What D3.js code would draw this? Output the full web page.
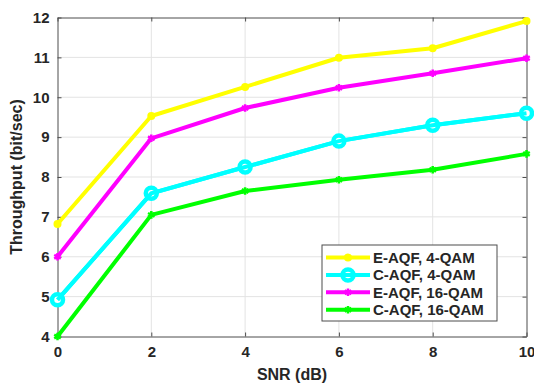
<!DOCTYPE html>
<html>
<head>
<meta charset="utf-8">
<script src="https://cdn.jsdelivr.net/npm/d3@7"></script>
<style>
  body { margin: 0; background: #fff; }
  text { font-family: Arial, "Liberation Sans", sans-serif; font-weight: bold; fill: #262626; }
</style>
</head>
<body>
<svg id="chart" width="534" height="385"></svg>
<script>
const snr = [0, 2, 4, 6, 8, 10];
const eaqf4 = [6.82, 9.53, 10.26, 10.99, 11.23, 11.91];
const caqf4 = [4.92, 7.59, 8.25, 8.9, 9.3, 9.6];
const eaqf16 = [6.0, 8.97, 9.73, 10.24, 10.6, 10.98];
const caqf16 = [4.0, 7.05, 7.65, 7.93, 8.18, 8.58];
const seriesNames = ['E-AQF, 4-QAM', 'C-AQF, 4-QAM', 'E-AQF, 16-QAM', 'C-AQF, 16-QAM'];
const xTicks = [0, 2, 4, 6, 8, 10];
const yTicks = [4, 5, 6, 7, 8, 9, 10, 11, 12];

const series = [
  { name: seriesNames[0], values: eaqf4, color: '#ffff00', marker: 'dot' },
  { name: seriesNames[1], values: caqf4, color: '#00ffff', marker: 'ring' },
  { name: seriesNames[2], values: eaqf16, color: '#ff00ff', marker: 'star' },
  { name: seriesNames[3], values: caqf16, color: '#00ff00', marker: 'star' },
];

const margin = { top: 17.5, right: 7.5, bottom: 48.5, left: 57.5 };
const width = 534 - margin.left - margin.right;
const height = 385 - margin.top - margin.bottom;

const svg = d3.select('#chart');
const g = svg.append('g').attr('transform', `translate(${margin.left},${margin.top})`);

const x = d3.scaleLinear().domain([0, 10]).range([0, width]);
const y = d3.scaleLinear().domain([4, 12]).range([height, 0]);

// grid
g.append('g').selectAll('line').data(xTicks.slice(1, -1)).enter().append('line')
  .attr('x1', (d) => x(d)).attr('x2', (d) => x(d)).attr('y1', 0).attr('y2', height)
  .attr('stroke', '#e3e3e3').attr('stroke-width', 1);
g.append('g').selectAll('line').data(yTicks.slice(1, -1)).enter().append('line')
  .attr('y1', (d) => y(d)).attr('y2', (d) => y(d)).attr('x1', 0).attr('x2', width)
  .attr('stroke', '#e3e3e3').attr('stroke-width', 1);

// axes
g.append('g').attr('transform', `translate(0,${height})`)
  .call(d3.axisBottom(x).tickValues(xTicks).tickSizeInner(-4).tickSizeOuter(0).tickPadding(10));
g.append('g')
  .call(d3.axisLeft(y).tickValues(yTicks).tickSizeInner(-4).tickSizeOuter(0).tickPadding(8));
g.append('g').attr('transform', `translate(${width},0)`)
  .call(d3.axisRight(y).tickValues(yTicks).tickSizeInner(-4).tickSizeOuter(0).tickFormat(''));
g.append('g')
  .call(d3.axisTop(x).tickValues(xTicks).tickSizeInner(-4).tickSizeOuter(0).tickFormat(''));
g.selectAll('.domain').attr('stroke', '#4d4d4d').attr('stroke-width', 1);
g.selectAll('.tick line').attr('stroke', '#4d4d4d');
g.selectAll('.tick text').style('font-size', '15px').style('font-weight', 'bold').attr('fill', '#262626');

// lines
const line = d3.line().x((d, i) => x(snr[i])).y((d) => y(d));
const star = d3.symbol().type(d3.symbolAsterisk).size(40);

function drawMarker(sel, s) {
  if (s.marker === 'dot') {
    sel.append('circle').attr('r', 4).attr('fill', s.color);
  } else if (s.marker === 'ring') {
    sel.append('circle').attr('r', 5.5).attr('fill', '#fff')
      .attr('stroke', s.color).attr('stroke-width', 4.5);
  } else {
    sel.append('path').attr('d', star).attr('fill', 'none')
      .attr('stroke', s.color).attr('stroke-width', 2.5);
  }
}

series.forEach((s) => {
  g.append('path').datum(s.values).attr('d', line)
    .attr('fill', 'none').attr('stroke', s.color).attr('stroke-width', 4)
    .attr('stroke-linejoin', 'round');
});
series.forEach((s) => {
  g.selectAll(null).data(s.values).enter().append('g')
    .attr('transform', (d, i) => `translate(${x(snr[i])},${y(d)})`)
    .each(function () { drawMarker(d3.select(this), s); });
  // line drawn again over the rings, as in the original
  if (s.marker === 'ring') {
    g.append('path').datum(s.values).attr('d', line)
      .attr('fill', 'none').attr('stroke', s.color).attr('stroke-width', 4);
  }
});

// axis labels
svg.append('text').attr('x', margin.left + width / 2).attr('y', 380)
  .attr('text-anchor', 'middle').style('font-size', '16px').text('SNR (dB)');
svg.append('text').attr('transform', `translate(22,${margin.top + height / 2}) rotate(-90)`)
  .attr('text-anchor', 'middle').style('font-size', '16px').text('Throughput (bit/sec)');

// legend
const lg = svg.append('g').attr('transform', 'translate(322,245)');
lg.append('rect').attr('width', 175).attr('height', 76)
  .attr('fill', '#fff').attr('stroke', '#4d4d4d').attr('stroke-width', 1);
series.forEach((s, i) => {
  const row = lg.append('g').attr('transform', `translate(0,${12.5 + i * 17.4})`);
  row.append('line').attr('x1', 4).attr('x2', 48).attr('stroke', s.color).attr('stroke-width', 4);
  drawMarker(row.append('g').attr('transform', 'translate(26,0)'), s);
  if (s.marker === 'ring') {
    row.append('line').attr('x1', 4).attr('x2', 48).attr('stroke', s.color).attr('stroke-width', 4);
  }
  row.append('text').attr('x', 51).attr('y', 5.5).style('font-size', '15px').text(s.name);
});
</script>
</body>
</html>
